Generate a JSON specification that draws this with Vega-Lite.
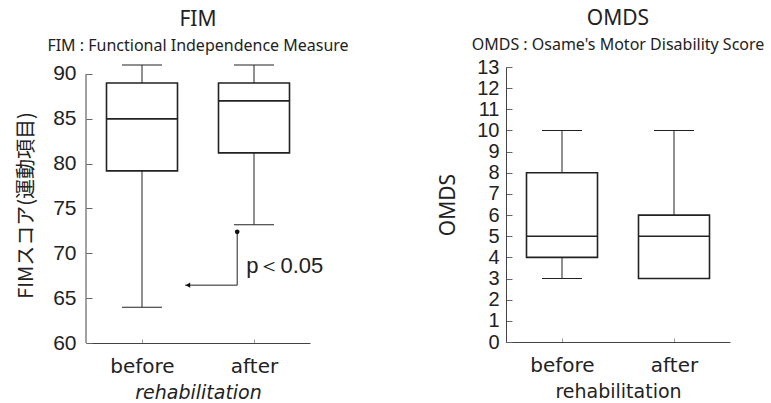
{
  "$schema": "https://vega.github.io/schema/vega-lite/v6.json",
  "background": "white",
  "padding": {"left": 16, "top": 8, "right": 5, "bottom": 0},
  "bounds": "flush",
  "spacing": 196,
  "config": {
    "font": "Noto Sans",
    "view": {"stroke": null},
    "axis": {
      "grid": false,
      "domainColor": "#444",
      "tickColor": "#666",
      "labelColor": "#222",
      "titleColor": "#222",
      "titleFontWeight": "normal",
      "labelFont": "Liberation Sans"
    },
    "title": {"color": "#222", "subtitleColor": "#222", "fontWeight": "normal", "anchor": "middle"}
  },
  "datasets": {
    "fim": [
      {"group": "before", "min": 64, "q1": 79.2, "median": 85, "q3": 89, "max": 91},
      {"group": "after", "min": 73.2, "q1": 81.2, "median": 87, "q3": 89, "max": 91}
    ],
    "omds": [
      {"group": "before", "min": 3, "q1": 4, "median": 5, "q3": 8, "max": 10},
      {"group": "after", "min": 3, "q1": 3, "median": 5, "q3": 6, "max": 10}
    ]
  },
  "hconcat": [
    {
      "width": 224,
      "height": 276,
      "title": {"text": "FIM", "subtitle": "FIM : Functional Independence Measure", "fontSize": 21, "subtitleFontSize": 16, "offset": 9, "subtitlePadding": 8},
      "layer": [
        {
          "data": {"name": "fim"},
          "layer": [
            {
              "mark": {"type": "rule", "color": "#222", "strokeWidth": 1},
              "encoding": {
                "x": {"field": "group", "type": "nominal", "sort": ["before", "after"], "scale": {"type": "point", "padding": 0.5},
                  "axis": {"title": "rehabilitation", "labelAngle": 0, "labelFont": "DejaVu Sans", "labelFontSize": 20, "titleFont": "DejaVu Sans", "titleFontSize": 19, "titleFontStyle": "italic", "tickSize": -4, "labelPadding": 17, "titlePadding": 7, "tickColor": "#999"}},
                "y": {"field": "min", "type": "quantitative", "scale": {"domain": [60, 90.78], "nice": false, "zero": false},
                  "axis": {"values": [60, 65, 70, 75, 80, 85, 90], "title": "FIMスコア(運動項目)", "titleFont": "Noto Sans CJK JP", "titleFontSize": 20, "labelFontSize": 21, "tickSize": -6, "labelPadding": 16, "titlePadding": 16, "domain": false}},
                "y2": {"field": "max"}
              }
            },
            {
              "mark": {"type": "bar", "size": 71, "fill": "white", "stroke": "#222", "strokeWidth": 1.6},
              "encoding": {
                "x": {"field": "group", "type": "nominal", "sort": ["before", "after"]},
                "y": {"field": "q1", "type": "quantitative"},
                "y2": {"field": "q3"}
              }
            },
            {
              "mark": {"type": "tick", "orient": "horizontal", "size": 71, "thickness": 1.6, "color": "#222", "opacity": 1},
              "encoding": {
                "x": {"field": "group", "type": "nominal", "sort": ["before", "after"]},
                "y": {"field": "median", "type": "quantitative"}
              }
            },
            {
              "mark": {"type": "tick", "orient": "horizontal", "size": 40, "thickness": 1, "color": "#222", "opacity": 1},
              "encoding": {
                "x": {"field": "group", "type": "nominal", "sort": ["before", "after"]},
                "y": {"field": "min", "type": "quantitative"}
              }
            },
            {
              "mark": {"type": "tick", "orient": "horizontal", "size": 40, "thickness": 1, "color": "#222", "opacity": 1},
              "encoding": {
                "x": {"field": "group", "type": "nominal", "sort": ["before", "after"]},
                "y": {"field": "max", "type": "quantitative"}
              }
            }
          ]
        },
        {
          "layer": [
            {
              "data": {"values": [{"x": 0.5, "y": 60, "y2": 90, "c": "axis"}, {"x": 1.85, "y": 72.4, "y2": 66.45, "c": "ann"}]},
              "mark": {"type": "rule", "strokeWidth": 1},
              "encoding": {
                "x": {"field": "x", "type": "quantitative", "scale": {"domain": [0.5, 2.5], "nice": false, "zero": false}, "axis": null},
                "y": {"field": "y", "type": "quantitative"},
                "y2": {"field": "y2"},
                "color": {"field": "c", "type": "nominal", "scale": {"domain": ["axis", "ann"], "range": ["#444", "#222"]}, "legend": null}
              }
            },
            {
              "data": {"values": [{"x": 1.385, "x2": 1.85, "y": 66.45}]},
              "mark": {"type": "rule", "strokeWidth": 1, "color": "#222"},
              "encoding": {
                "x": {"field": "x", "type": "quantitative"},
                "x2": {"field": "x2"},
                "y": {"field": "y", "type": "quantitative"}
              }
            },
            {
              "data": {"values": [{"x": 1.85, "y": 72.4}]},
              "mark": {"type": "point", "shape": "circle", "filled": true, "size": 22, "color": "#111", "opacity": 1},
              "encoding": {
                "x": {"field": "x", "type": "quantitative"},
                "y": {"field": "y", "type": "quantitative"}
              }
            },
            {
              "data": {"values": [{"x": 1.41, "y": 66.45}]},
              "mark": {"type": "point", "shape": "triangle-left", "filled": true, "size": 28, "color": "#111", "opacity": 1},
              "encoding": {
                "x": {"field": "x", "type": "quantitative"},
                "y": {"field": "y", "type": "quantitative"}
              }
            },
            {
              "data": {"values": [{"x": 1.93, "y": 67.85, "label": "p＜0.05"}]},
              "mark": {"type": "text", "align": "left", "baseline": "alphabetic", "fontSize": 22, "font": "Liberation Sans", "color": "#222"},
              "encoding": {
                "x": {"field": "x", "type": "quantitative"},
                "y": {"field": "y", "type": "quantitative"},
                "text": {"field": "label"}
              }
            }
          ]
        }
      ],
      "resolve": {"scale": {"x": "independent", "color": "independent"}}
    },
    {
      "width": 224,
      "height": 275,
      "title": {"text": "OMDS", "subtitle": "OMDS : Osame's Motor Disability Score", "fontSize": 21, "subtitleFontSize": 16, "offset": 4, "subtitlePadding": 8},
      "data": {"name": "omds"},
      "layer": [
        {
          "mark": {"type": "rule", "color": "#222", "strokeWidth": 1},
          "encoding": {
            "x": {"field": "group", "type": "nominal", "sort": ["before", "after"], "scale": {"type": "point", "padding": 0.5},
              "axis": {"title": "rehabilitation", "labelAngle": 0, "labelFont": "DejaVu Sans", "labelFontSize": 20, "titleFont": "DejaVu Sans", "titleFontSize": 19, "tickSize": -4, "labelPadding": 17, "titlePadding": 7, "tickColor": "#999"}},
            "y": {"field": "min", "type": "quantitative", "scale": {"domain": [0, 13], "nice": false, "zero": false},
              "axis": {"tickCount": 13, "tickMinStep": 1, "labelOverlap": false, "title": "OMDS", "titleFontSize": 21, "labelFontSize": 20, "tickSize": -6, "labelPadding": 13, "titlePadding": 18}},
            "y2": {"field": "max"}
          }
        },
        {
          "mark": {"type": "bar", "size": 71, "fill": "white", "stroke": "#222", "strokeWidth": 1.6},
          "encoding": {
            "x": {"field": "group", "type": "nominal", "sort": ["before", "after"]},
            "y": {"field": "q1", "type": "quantitative"},
            "y2": {"field": "q3"}
          }
        },
        {
          "mark": {"type": "tick", "orient": "horizontal", "size": 71, "thickness": 1.6, "color": "#222", "opacity": 1},
          "encoding": {
            "x": {"field": "group", "type": "nominal", "sort": ["before", "after"]},
            "y": {"field": "median", "type": "quantitative"}
          }
        },
        {
          "mark": {"type": "tick", "orient": "horizontal", "size": 40, "thickness": 1, "color": "#222", "opacity": 1},
          "encoding": {
            "x": {"field": "group", "type": "nominal", "sort": ["before", "after"]},
            "y": {"field": "min", "type": "quantitative"}
          }
        },
        {
          "mark": {"type": "tick", "orient": "horizontal", "size": 40, "thickness": 1, "color": "#222", "opacity": 1},
          "encoding": {
            "x": {"field": "group", "type": "nominal", "sort": ["before", "after"]},
            "y": {"field": "max", "type": "quantitative"}
          }
        }
      ]
    }
  ]
}
